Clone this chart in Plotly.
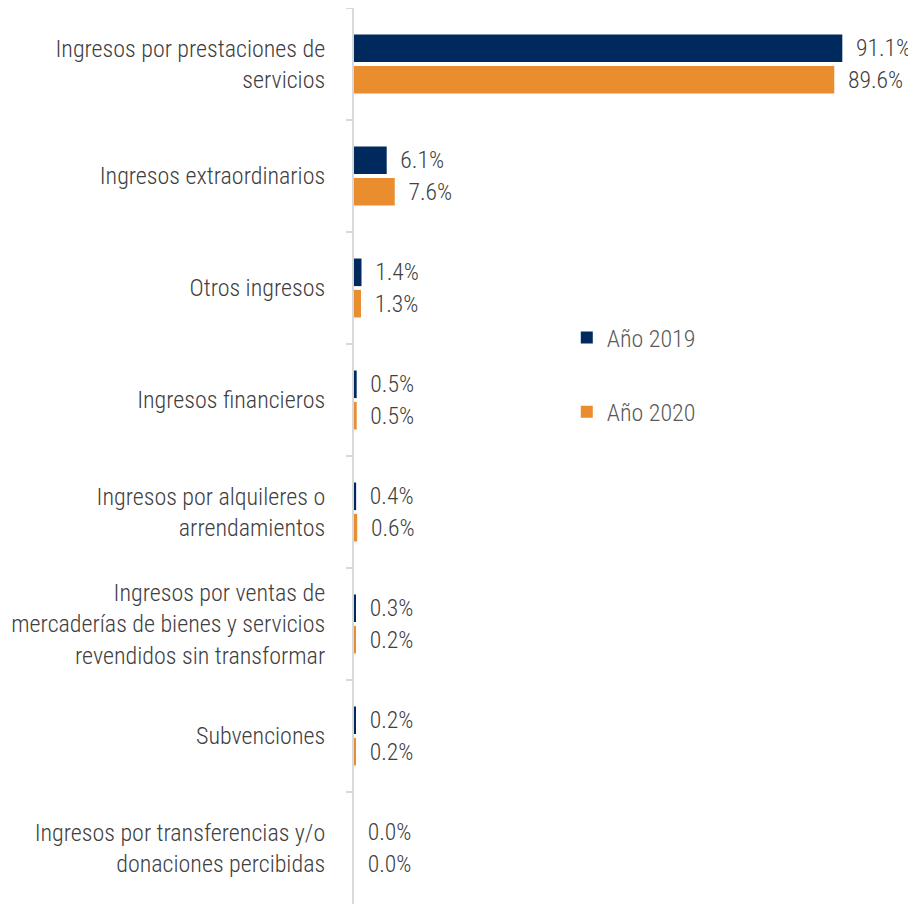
import plotly.graph_objects as go

categories = [
    "Ingresos por prestaciones de<br>servicios",
    "Ingresos extraordinarios",
    "Otros ingresos",
    "Ingresos financieros",
    "Ingresos por alquileres o<br>arrendamientos",
    "Ingresos por ventas de<br>mercaderías de bienes y servicios<br>revendidos sin transformar",
    "Subvenciones",
    "Ingresos por transferencias y/o<br>donaciones percibidas",
]
values_2019 = [91.1, 6.1, 1.4, 0.5, 0.4, 0.3, 0.2, 0.0]
values_2020 = [89.6, 7.6, 1.3, 0.5, 0.6, 0.2, 0.2, 0.0]
series_names = ["Año 2019", "Año 2020"]
colors = ["#002A5E", "#E98D2E"]

FONT = "Roboto Condensed, Liberation Sans Narrow, Roboto, sans-serif"

fig = go.Figure()
for name, vals, col, grp in zip(series_names, [values_2019, values_2020], colors, ["a", "b"]):
    fig.add_trace(go.Bar(
        y=categories, x=vals, name=name, orientation="h",
        marker=dict(color=col, line=dict(width=0)),
        text=["\u00a0\u00a0" + f"{v:.1f}%" for v in vals], textposition="outside",
        textfont=dict(family=FONT, size=24, color="#404040", weight=300),
        cliponaxis=False, legendgroup=grp,
    ))

fig.update_layout(
    width=908, height=897,
    margin=dict(l=346, r=26, t=0, b=1, autoexpand=False),
    paper_bgcolor="white", plot_bgcolor="white",
    barmode="group", bargap=0.44, bargroupgap=0.12,
    font=dict(family=FONT, size=24, color="#404040", weight=300),
    showlegend=True,
    legend=dict(x=0.397, y=0.657, xanchor="left", yanchor="top",
                tracegroupgap=40, traceorder="grouped",
                font=dict(family=FONT, size=24, color="#595959", weight=300),
                itemwidth=30),
)
fig.update_xaxes(range=[0, 100], visible=False, automargin=False)
fig.update_yaxes(
    autorange="reversed", showline=True, linecolor="#D9D9D9", linewidth=2,
    ticks="outside", tickson="boundaries", ticklen=6, tickcolor="#D9D9D9", tickwidth=2,
    ticklabelstandoff=22, showgrid=False, automargin=False,
    tickfont=dict(family=FONT, size=24, color="#404040", weight=300),
)

fig.write_html("out.html")
